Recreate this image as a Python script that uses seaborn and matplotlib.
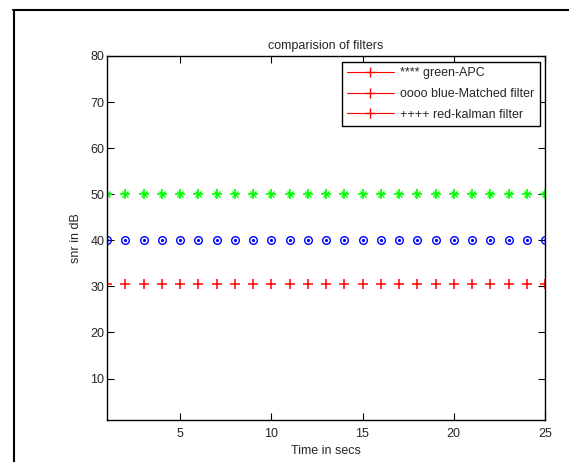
import matplotlib
matplotlib.use("Agg")
import matplotlib.pyplot as plt
from matplotlib.lines import Line2D
import seaborn as sns
import numpy as np

time_secs = list(range(1, 26))
apc_snr = [50] * 25
matched_snr = [40] * 25
kalman_snr = [30.5] * 25
legend_labels = ["**** green-APC", "oooo blue-Matched filter", "++++ red-kalman filter"]
x_ticks = [5, 10, 15, 20, 25]
y_ticks = [10, 20, 30, 40, 50, 60, 70, 80]

sns.set_style("white")
plt.rcParams['font.family'] = ['Liberation Sans', 'DejaVu Sans']
plt.rcParams['font.size'] = 9

fig = plt.figure(figsize=(5.69, 4.62), dpi=100)
ax = fig.add_axes([107/569, 1-420/462, (545-107)/569, (420-56)/462])

sns.lineplot(x=time_secs, y=apc_snr, ax=ax, linestyle='none', marker='+',
             markersize=7, markeredgewidth=1.2, color='#00ff00', markeredgecolor='#00ff00')
sns.lineplot(x=time_secs, y=apc_snr, ax=ax, linestyle='none', marker='x',
             markersize=4.5, markeredgewidth=1.0, color='#00ff00', markeredgecolor='#00ff00')
sns.lineplot(x=time_secs, y=matched_snr, ax=ax, linestyle='none', marker='o',
             markersize=5.5, markerfacecolor='none', markeredgewidth=1.0,
             markeredgecolor='#0000ff', color='#0000ff')
sns.lineplot(x=time_secs, y=matched_snr, ax=ax, linestyle='none', marker='.',
             markersize=3, color='#0000ff', markeredgecolor='#0000ff')
sns.lineplot(x=time_secs, y=kalman_snr, ax=ax, linestyle='none', marker='+',
             markersize=6.5, markeredgewidth=1.1, color='#ff0000', markeredgecolor='#ff0000')

ax.set_xlim(1, 25)
ax.set_ylim(1, 80)
ax.set_xticks(x_ticks)
ax.set_yticks(y_ticks)
ax.tick_params(direction='in', length=5, width=0.8, top=True, right=True,
               bottom=True, left=True, labelsize=9, pad=2, color='black')
ax.tick_params(axis='x', pad=6)
for s in ax.spines.values():
    s.set_visible(True)
    s.set_color('black')
    s.set_linewidth(1.0)

ax.set_title("comparision of filters", fontsize=9, pad=5)
ax.set_xlabel("Time in secs", fontsize=9, labelpad=3)
ax.set_ylabel("snr in dB", fontsize=9, labelpad=6)

handles = [Line2D([0], [0], color='#ff0000', marker='+', markersize=7, linewidth=0.8)
           for _ in legend_labels]
leg = ax.legend(handles, legend_labels, loc='upper right', bbox_to_anchor=(0.988, 0.983),
                fancybox=False, framealpha=1, edgecolor='black', fontsize=9,
                handlelength=3.8, labelspacing=0.7, borderpad=0.4, handletextpad=0.5,
                borderaxespad=0)
leg.get_frame().set_linewidth(1.0)

# outer figure border fragments
fig.add_artist(Line2D([13.5/569, 13.5/569], [0, 1-10/462], color='black', linewidth=1.5,
                      transform=fig.transFigure))
fig.add_artist(Line2D([13/569, 1], [1-10/462, 1-10/462], color='black', linewidth=1.5,
                      transform=fig.transFigure))

fig.savefig("out.png", dpi=100)
